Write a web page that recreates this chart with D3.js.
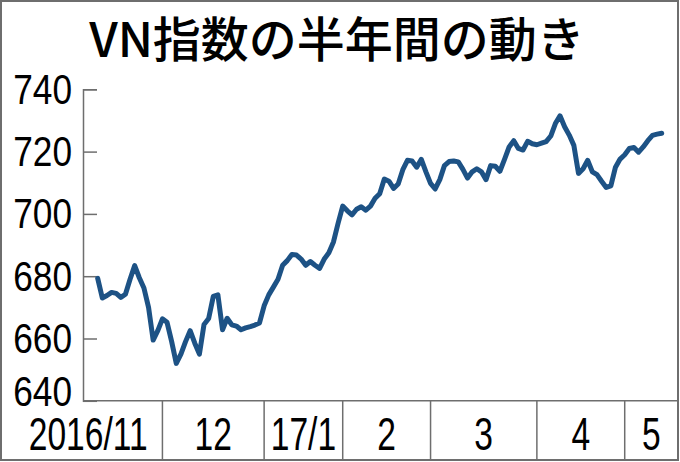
<!DOCTYPE html>
<html>
<head>
<meta charset="utf-8">
<script src="https://cdn.jsdelivr.net/npm/d3@7"></script>
<style>
  body { margin: 0; background: #fff; }
  svg { display: block; }
</style>
</head>
<body>
<div id="chart"></div>
<script>
// chart data
var title = "VN指数の半年間の動き";
var yTicks = [640, 660, 680, 700, 720, 740];
var monthLabels = ["2016/11", "12", "17/1", "2", "3", "4", "5"];
var monthDays = [14, 22, 17, 19, 23, 19, 9]; // trading days per month
var vnIndex = [
  679.3, 673.0, 673.8, 674.8, 674.5, 673.2, 674.2, 679.0, 683.4, 679.5,
  676.2, 670.0, 659.5, 662.5, 666.3, 665.2, 659.0, 652.0, 655.0, 659.0,
  662.5, 658.5, 655.0, 664.5, 666.4, 673.5, 674.0, 662.8, 666.5, 664.4,
  664.0, 662.8, 663.4, 663.8, 664.3, 665.0, 670.5, 674.0, 676.5, 679.0,
  683.5, 685.0, 687.0, 686.8, 685.5, 683.5, 684.7, 683.5, 682.5, 685.5,
  687.5, 691.0, 697.0, 702.5, 701.0, 699.7, 701.5, 702.3, 701.2, 702.5,
  705.0, 706.5, 711.2, 710.5, 708.2, 709.6, 714.2, 717.2, 717.0, 715.0,
  717.5, 713.5, 709.8, 708.0, 711.0, 715.5, 716.8, 717.0, 716.7, 714.3,
  711.5, 713.5, 714.5, 713.5, 711.0, 715.5, 715.3, 713.7, 717.5, 721.5,
  723.5, 721.0, 720.5, 723.3, 722.5, 722.2, 722.7, 723.2, 725.0, 729.0,
  731.5, 728.0, 725.3, 722.0, 713.0, 714.5, 717.2, 713.5, 712.6, 710.5,
  708.5, 709.0, 715.0, 717.6, 719.0, 721.0, 721.3, 719.8, 721.5, 723.5,
  725.2, 725.6, 725.9
];

var svgWidth = 680;
var svgHeight = 462;

var axisX = 83;       // y axis line
var plotTop = 89.3;
var plotBottom = 400.8;
var tableBottom = 460;
var frameRight = 678;
var gray = "#6e6e6e";

var svg = d3.select("#chart")
  .append("svg")
  .attr("width", svgWidth)
  .attr("height", svgHeight);

// outer frame
svg.append("rect")
  .attr("x", 1).attr("y", 1)
  .attr("width", frameRight - 1).attr("height", tableBottom - 1)
  .attr("fill", "none")
  .attr("stroke", gray)
  .attr("stroke-width", 2);

// title
svg.append("text")
  .attr("x", 337)
  .attr("y", 57)
  .attr("text-anchor", "middle")
  .style("font-family", "'Noto Sans CJK JP', 'Noto Sans', sans-serif")
  .style("font-size", "48px")
  .style("font-weight", "500")
  .attr("fill", "#000")
  .text(title);

// scales
var xScale = d3.scaleLinear()
  .domain([0, vnIndex.length - 1])
  .range([97.7, 661.7]);

var yScale = d3.scaleLinear()
  .domain([640, 740])
  .range([plotBottom, plotTop]);

// y axis
var leftAxis = d3.axisLeft(yScale)
  .tickValues(yTicks)
  .tickSize(-14)
  .tickFormat("");

var yAxisG = svg.append("g")
  .attr("transform", `translate(${axisX}, 0)`)
  .call(leftAxis);
yAxisG.select(".domain").attr("stroke", gray).attr("stroke-width", 1.5);
yAxisG.selectAll(".tick line").attr("stroke", gray).attr("stroke-width", 1.5);

// y labels (condensed look)
svg.selectAll(".ylab")
  .data(yTicks)
  .enter()
  .append("text")
  .attr("class", "ylab")
  .attr("transform", d => {
    var by = d === 640 ? yScale(d) + 5 : yScale(d) + 14.5;
    return `translate(72, ${by}) scale(0.84, 1)`;
  })
  .attr("text-anchor", "end")
  .style("font-family", "'Liberation Sans', Arial, sans-serif")
  .style("font-size", "42px")
  .attr("fill", "#000")
  .text(d => d);

// bottom line of plot
svg.append("line")
  .attr("x1", axisX).attr("x2", frameRight)
  .attr("y1", plotBottom).attr("y2", plotBottom)
  .attr("stroke", gray)
  .attr("stroke-width", 1.5);

// month table
var cum = d3.cumsum(monthDays);
var bounds = Array.from(cum).slice(0, -1);

svg.selectAll(".mdiv")
  .data(bounds)
  .enter()
  .append("line")
  .attr("class", "mdiv")
  .attr("x1", d => xScale(d)).attr("x2", d => xScale(d))
  .attr("y1", plotBottom).attr("y2", tableBottom)
  .attr("stroke", gray)
  .attr("stroke-width", 1.5);

var edges = [14].concat(bounds.map(d => xScale(d))).concat([frameRight]);

svg.selectAll(".xlab")
  .data(monthLabels)
  .enter()
  .append("text")
  .attr("class", "xlab")
  .attr("transform", (d, i) => `translate(${(edges[i] + edges[i + 1]) / 2}, 449.5) scale(0.73, 1)`)
  .attr("text-anchor", "middle")
  .style("font-family", "'Liberation Sans', Arial, sans-serif")
  .style("font-size", "46px")
  .attr("fill", "#000")
  .text(d => d);

// index line
var line = d3.line()
  .x((d, i) => xScale(i))
  .y(d => yScale(d));

svg.append("path")
  .datum(vnIndex)
  .attr("d", line)
  .attr("fill", "none")
  .attr("stroke", "#1d5285")
  .attr("stroke-width", 5)
  .attr("stroke-linejoin", "round")
  .attr("stroke-linecap", "round");
</script>
</body>
</html>
